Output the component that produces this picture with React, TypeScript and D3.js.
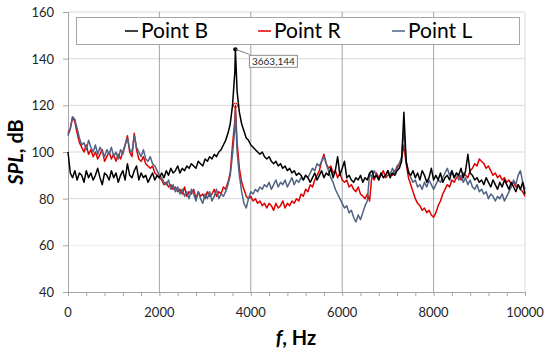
import { useEffect, useRef } from "react";
import * as d3 from "d3";

// SPL spectra at three points, sampled every 50 Hz (0 .. 10000 Hz)
const STEP_HZ = 50;

const SPL_B = [
  100, 91, 89, 92, 88, 91, 90, 87, 92, 89, 91, 88, 90, 93, 89, 86, 91, 90, 88, 92, 89,
  91, 87, 90, 92, 88, 95, 90, 89, 92, 94, 88, 91, 89, 90, 87, 89, 91, 88, 90, 89,
  91, 89, 92, 90, 93, 91, 92, 94, 91, 93, 92, 94, 93, 95, 94, 93, 96, 95, 94, 97,
  96, 98, 97, 99, 98, 100, 101, 103, 105, 108, 112, 120, 134, 126, 117, 112, 109, 106, 105, 103,
  102, 101, 100, 99, 100, 98, 97, 98, 96, 95, 96, 94, 95, 93, 94, 92, 93, 91, 92, 90,
  91, 90, 88, 90, 89, 87, 89, 91, 88, 90, 92, 89, 91, 90, 93, 89, 92, 98, 90, 93,
  96, 89, 90, 88, 87, 89, 88, 90, 87, 89, 88, 91, 92, 89, 90, 88, 91, 89, 90, 92,
  89, 91, 90, 92, 93, 96, 117, 96, 91, 90, 92, 89, 91, 88, 92, 90, 87, 89, 93, 88,
  90, 88, 91, 87, 89, 90, 88, 92, 89, 91, 90, 93, 89, 92, 99, 91, 90, 88, 89, 87,
  88, 86, 89, 87, 85, 88, 86, 84, 87, 85, 88, 86, 84, 87, 85, 83, 86, 84, 87, 82,
];

const SPL_R = [
  108, 110, 115, 113, 108, 104, 102, 100, 103, 99, 101, 98, 100, 97, 99, 101, 96, 98, 100, 97, 99,
  96, 99, 97, 100, 103, 107, 100, 98, 108, 101, 97, 96, 98, 95, 94, 93, 94, 91, 90, 89,
  88, 86, 87, 85, 86, 84, 85, 83, 84, 82, 85, 81, 83, 82, 84, 80, 83, 81, 82, 80,
  83, 81, 82, 84, 81, 83, 82, 85, 84, 87, 91, 103, 113, 104, 93, 87, 84, 81, 80, 81,
  79, 80, 78, 79, 77, 78, 76, 78, 77, 75, 78, 76, 77, 79, 76, 78, 77, 79, 78, 80,
  79, 82, 81, 84, 83, 86, 85, 88, 90, 92, 96, 99, 95, 93, 94, 91, 92, 89, 91, 88,
  87, 88, 85, 86, 84, 83, 85, 82, 81, 80, 82, 79, 90, 88, 91, 89, 90, 92, 89, 90,
  91, 90, 92, 93, 95, 97, 103, 95, 89, 86, 83, 80, 78, 77, 75, 76, 74, 75, 73, 72,
  74, 77, 79, 82, 84, 86, 85, 88, 87, 89, 90, 88, 91, 90, 89, 92, 93, 95, 94, 97,
  96, 95, 93, 94, 92, 90, 91, 89, 90, 88, 89, 87, 88, 86, 87, 85, 86, 84, 83, 81,
];

const SPL_L = [
  107, 110, 115, 114, 110, 106, 103, 104, 101, 105, 102, 100, 103, 99, 102, 100, 98, 101, 99, 102, 98,
  100, 97, 101, 99, 103, 106, 101, 100, 107, 102, 100, 98, 101, 97, 96, 98, 95, 94, 92, 90,
  89, 87, 86, 88, 84, 86, 83, 85, 82, 84, 81, 83, 80, 84, 82, 79, 83, 80, 78, 82,
  80, 83, 79, 81, 84, 80, 82, 81, 83, 86, 90, 99, 110, 100, 90, 83, 78, 76, 80, 83,
  82, 84, 83, 85, 84, 86, 85, 87, 84, 86, 88, 85, 87, 86, 88, 85, 87, 89, 86, 88,
  87, 89, 88, 90, 89, 91, 93, 92, 95, 94, 96, 98, 95, 92, 89, 87, 84, 82, 80, 78,
  76, 77, 74, 75, 72, 70, 73, 71, 74, 77, 79, 91, 89, 92, 90, 88, 91, 89, 90, 92,
  90, 93, 91, 94, 95, 98, 110, 96, 92, 89, 87, 88, 85, 86, 84, 87, 85, 88, 86, 84,
  86, 88, 87, 89, 91, 93, 90, 92, 89, 91, 88, 90, 87, 89, 86, 88, 85, 84, 86, 83,
  84, 82, 83, 80, 82, 81, 79, 81, 80, 82, 79, 81, 83, 85, 88, 86, 90, 92, 87, 84,
];

// resonance peak (off the 50 Hz grid)
const PEAK_F = 3663;
const PEAK_B = 144;
const PEAK_R = 120;
const PEAK_L = 118;

const SERIES_NAMES = ["Point B", "Point R", "Point L"];
const SERIES_COLORS = ["#000000", "#e00000", "#4f6384"];

const X_TICKS = [0, 2000, 4000, 6000, 8000, 10000];
const Y_TICKS = [40, 60, 80, 100, 120, 140, 160];

const FONT = "Lato, 'Open Sans', sans-serif";

function withPeak(vals: number[], peak: number): [number, number][] {
  const pts: [number, number][] = vals.map((v, i) => [i * STEP_HZ, v]);
  pts.push([PEAK_F, peak]);
  return pts.sort((a, b) => a[0] - b[0]);
}

export default function App() {
  const svgRef = useRef<SVGSVGElement>(null);
  const width = 550;
  const height = 355;

  useEffect(() => {
    if (!svgRef.current) return;
    const svg = d3.select(svgRef.current);
    svg.selectAll("*").remove();

    const left = 68, right = 525, top = 12, bottom = 292;
    const x = d3.scaleLinear().domain([0, 10000]).range([left, right]);
    const y = d3.scaleLinear().domain([40, 160]).range([bottom, top]);

    svg.append("rect").attr("width", width).attr("height", height).attr("fill", "#fff");

    // horizontal grid
    svg.append("g").selectAll("line")
      .data(Y_TICKS.filter((t) => t > 40))
      .join("line")
      .attr("x1", left).attr("x2", right)
      .attr("y1", (d) => y(d)).attr("y2", (d) => y(d))
      .attr("stroke", (d) => (d === 60 ? "#ececec" : "#d9d9d9"))
      .attr("stroke-width", 1);

    // vertical grid
    svg.append("g").selectAll("line")
      .data(X_TICKS.filter((t) => t > 0))
      .join("line")
      .attr("x1", (d) => x(d)).attr("x2", (d) => x(d))
      .attr("y1", top).attr("y2", bottom)
      .attr("stroke", (d) => (d === 10000 ? "#d9d9d9" : "#a6a6a6"))
      .attr("stroke-width", 1);

    // x axis with minor ticks every 400 Hz
    const xAxis = d3.axisBottom(x)
      .tickValues(d3.range(0, 10001, 400))
      .tickSize(4)
      .tickFormat(() => "");
    svg.append("g").attr("transform", `translate(0,${bottom})`).call(xAxis)
      .call((g) => g.selectAll(".domain, .tick line").attr("stroke", "#a6a6a6"));

    svg.append("g").selectAll("text")
      .data(X_TICKS)
      .join("text")
      .attr("x", (d) => x(d)).attr("y", bottom + 25)
      .attr("text-anchor", "middle")
      .attr("font-family", FONT).attr("font-size", 13).attr("fill", "#262626")
      .text((d) => d);

    // y axis
    const yAxis = d3.axisLeft(y).tickValues(Y_TICKS).tickSize(5).tickFormat(() => "");
    svg.append("g").attr("transform", `translate(${left},0)`).call(yAxis)
      .call((g) => g.selectAll(".domain, .tick line").attr("stroke", "#a6a6a6"));

    svg.append("g").selectAll("text")
      .data(Y_TICKS)
      .join("text")
      .attr("x", 54).attr("y", (d) => y(d) + 5)
      .attr("text-anchor", "end")
      .attr("font-family", FONT).attr("font-size", 13).attr("fill", "#262626")
      .text((d) => d);

    // axis titles
    const yt = svg.append("text")
      .attr("transform", `translate(23,152) rotate(-90)`)
      .attr("text-anchor", "middle")
      .attr("font-family", FONT).attr("font-size", 20).attr("font-weight", "bold");
    yt.append("tspan").attr("font-style", "italic").text("SPL");
    yt.append("tspan").text(", dB");

    const xt = svg.append("text")
      .attr("x", 296).attr("y", 345)
      .attr("text-anchor", "middle")
      .attr("font-family", FONT).attr("font-size", 20).attr("font-weight", "bold");
    xt.append("tspan").attr("font-style", "italic").text("f");
    xt.append("tspan").text(", Hz");

    // series (R, L under B)
    const line = d3.line<[number, number]>().x((d) => x(d[0])).y((d) => y(d[1]));
    const data = [withPeak(SPL_B, PEAK_B), withPeak(SPL_R, PEAK_R), withPeak(SPL_L, PEAK_L)];
    [1, 2, 0].forEach((i) => {
      svg.append("path")
        .datum(data[i])
        .attr("d", line)
        .attr("fill", "none")
        .attr("stroke", SERIES_COLORS[i])
        .attr("stroke-width", 1.5)
        .attr("stroke-linejoin", "round");
    });

    // peak markers + label
    svg.append("circle")
      .attr("cx", x(PEAK_F)).attr("cy", y(PEAK_R)).attr("r", 2.2)
      .attr("fill", "none").attr("stroke", SERIES_COLORS[1]).attr("stroke-width", 1);
    svg.append("circle")
      .attr("cx", x(PEAK_F)).attr("cy", y(PEAK_B)).attr("r", 2.2).attr("fill", "#000");

    const lx = x(PEAK_F) + 14, ly = y(PEAK_B) + 6;
    svg.append("line")
      .attr("x1", x(PEAK_F)).attr("y1", y(PEAK_B))
      .attr("x2", lx).attr("y2", ly - 1)
      .attr("stroke", "#7f7f7f").attr("stroke-width", 1);
    svg.append("rect")
      .attr("x", lx).attr("y", ly)
      .attr("width", 48).attr("height", 12)
      .attr("fill", "#fff").attr("stroke", "#8c8c8c").attr("stroke-width", 1);
    svg.append("text")
      .attr("x", lx + 24).attr("y", ly + 9.5)
      .attr("text-anchor", "middle")
      .attr("font-family", FONT).attr("font-size", 10).attr("fill", "#262626")
      .text(`${PEAK_F},${PEAK_B}`);

    // legend
    const lg = svg.append("g");
    lg.append("rect")
      .attr("x", 76.5).attr("y", 17.5).attr("width", 443).attr("height", 27)
      .attr("fill", "#fff").attr("stroke", "#a6a6a6");
    const legendX = [125, 258, 392];
    SERIES_NAMES.forEach((name, i) => {
      lg.append("line")
        .attr("x1", legendX[i]).attr("x2", legendX[i] + 13)
        .attr("y1", 31).attr("y2", 31)
        .attr("stroke", SERIES_COLORS[i]).attr("stroke-width", 1.5);
      lg.append("text")
        .attr("x", legendX[i] + 16).attr("y", 38)
        .attr("font-family", FONT).attr("font-size", 21).attr("fill", "#000")
        .text(name);
    });
  }, []);

  return (
    <svg
      ref={svgRef}
      width={width}
      height={height}
      style={{ position: "absolute", left: 0, top: 0 }}
    />
  );
}
